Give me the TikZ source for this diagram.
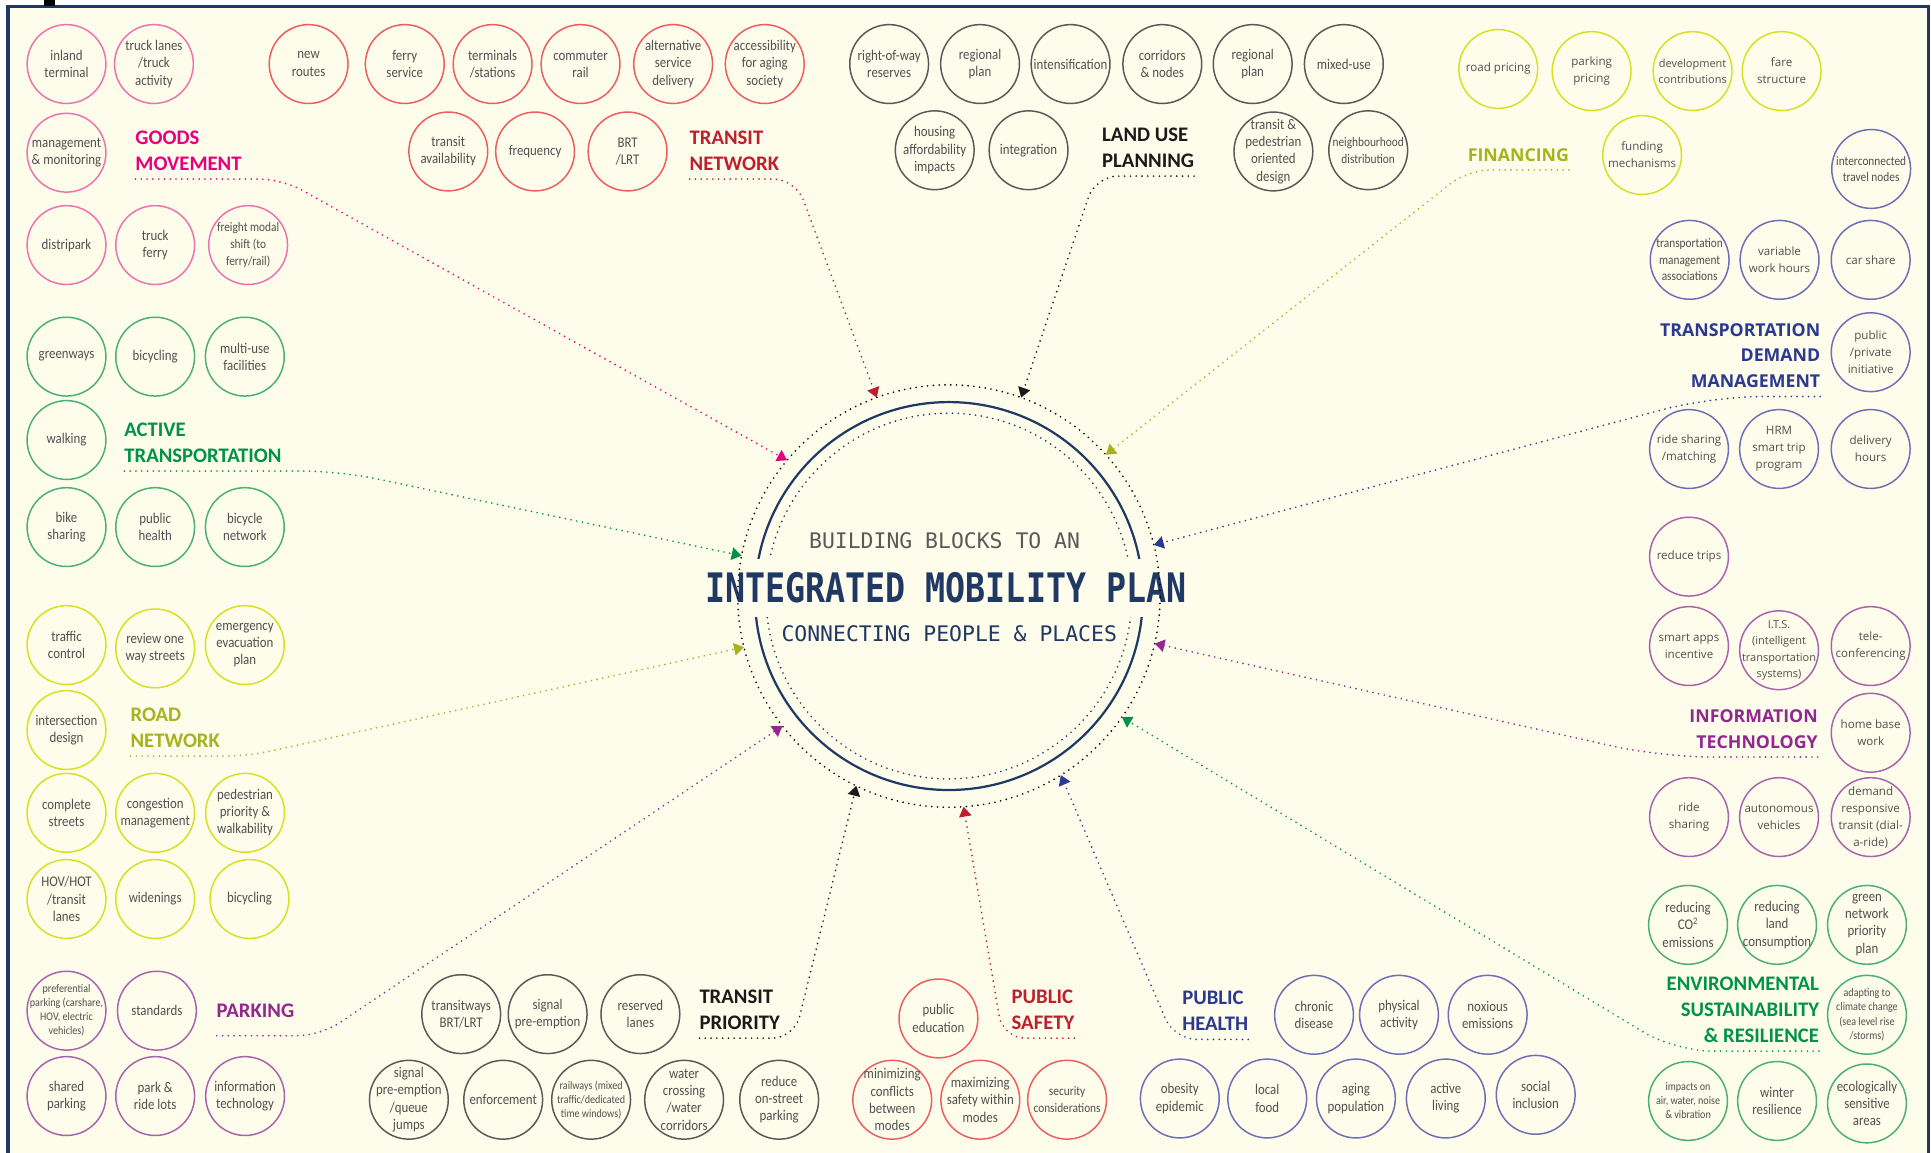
\documentclass[tikz,border=0pt]{standalone}
\usepackage{fontspec}
\setmainfont{Carlito}
\newfontfamily\bubblefont[FakeStretch=0.87]{Carlito}
\newfontfamily\osfont{Open Sans}
\newfontfamily\titlefont[FakeStretch=0.82]{DejaVu Sans Mono}
\newfontfamily\subfont{DejaVu Sans Mono}
\usetikzlibrary{arrows.meta}

\definecolor{bgcream}{HTML}{FEFCEA}
\definecolor{framenavy}{HTML}{1F3864}
\definecolor{txtgray}{HTML}{505050}
\definecolor{subgray}{HTML}{5A5A5A}
\definecolor{goodsc}{HTML}{E6007E}
\definecolor{goodsl}{HTML}{EE72AD}
\definecolor{transc}{HTML}{BE1E2D}
\definecolor{transl}{HTML}{EE5D5D}
\definecolor{landc}{HTML}{1A1A1A}
\definecolor{landl}{HTML}{595959}
\definecolor{finc}{HTML}{A8B21E}
\definecolor{finl}{HTML}{D9E021}
\definecolor{tdmc}{HTML}{2B3990}
\definecolor{tdml}{HTML}{6C6FB5}
\definecolor{itc}{HTML}{92278F}
\definecolor{itl}{HTML}{A763AC}
\definecolor{envc}{HTML}{00924A}
\definecolor{envl}{HTML}{4CAF73}

\tikzset{
    bubble/.style={circle, draw, line width=1.2pt, minimum size=64pt, inner sep=-12pt, outer sep=0pt,
        align=center, text=txtgray, font=\bubblefont\fontsize{12}{14}\selectfont},
    osb/.style={font=\osfont\fontsize{9.4}{13.8}\selectfont},
    osmid/.style={font=\osfont\fontsize{8.9}{13.2}\selectfont},
    midt/.style={font=\bubblefont\fontsize{10.6}{13.5}\selectfont},
    smallt/.style={font=\bubblefont\fontsize{9.4}{11.4}\selectfont},
    goods/.style={bubble, draw=goodsl},
    transit/.style={bubble, draw=transl},
    landuse/.style={bubble, draw=landl},
    finance/.style={bubble, osb, draw=finl},
    tdm/.style={bubble, osb, draw=tdml},
    infotech/.style={bubble, osb, draw=itl},
    enviro/.style={bubble, draw=envl},
    health/.style={bubble, draw=tdml},
    safety/.style={bubble, draw=transl},
    priority/.style={bubble, draw=landl},
    parking/.style={bubble, draw=itl},
    road/.style={bubble, draw=finl},
    active/.style={bubble, draw=envl},
    head/.style={inner sep=0pt, outer sep=0pt, font=\bfseries\fontsize{16.8}{21}\selectfont},
    oshead/.style={inner sep=0pt, outer sep=0pt, font=\osfont\bfseries\fontsize{14.4}{21}\selectfont},
    dotline/.style={line width=1.5pt, dash pattern=on 0pt off 4.7pt, line cap=round},
    feeder/.style={dotline, rounded corners=18pt, -{Triangle[length=8pt,width=10pt]}}
}

\begin{document}
\begin{tikzpicture}[x=1pt,y=-1pt]
\useasboundingbox (0,0) rectangle (1568,936);
\fill[bgcream] (6.5,5) rectangle (1568,936);
\draw[framenavy, line width=2.5pt] (6.5,940) -- (6.5,5) -- (1566,5) -- (1566,940);
\fill (36,0) rectangle (45,5);

\coordinate (hub) at (770.5,484);
\draw[framenavy, line width=1.8pt] (hub) circle[radius=157.5pt];
\draw[dotline, framenavy] (hub) circle[radius=148.5pt];
\node[fill=bgcream, inner xsep=3pt, inner ysep=11pt, text=framenavy,
    font=\titlefont\bfseries\fontsize{33}{36}\selectfont] (title) at (768,477.6) {INTEGRATED MOBILITY PLAN};
\node[text=subgray, font=\subfont\fontsize{17.4}{20}\selectfont] (blocks) at (767,439) {BUILDING BLOCKS TO AN};
\node[text=framenavy, font=\subfont\fontsize{17.4}{20}\selectfont] (people) at (770.8,514.3) {CONNECTING PEOPLE \& PLACES};
\node[circle, draw, dotline, minimum size=343pt, inner sep=0pt, outer sep=0pt] (ring) at (hub) {};

\foreach \n/\x/\y/\st/\lbl in {
    gm1/54/52//{inland\\terminal},
    gm2/125/52//{truck lanes\\/truck\\activity},
    gm3/54/124//{management\\\& monitoring},
    gm4/54/199//{distripark},
    gm5/126/199//{truck\\ferry},
    gm6/201.5/199/midt/{freight modal\\shift (to\\ferry/rail)}}
    \node[goods,\st] (\n) at (\x,\y) {\lbl};

\foreach \n/\x/\y/\st/\lbl in {
    tn1/250.6/52//{new\\routes},
    tn2/328.7/52//{ferry\\service},
    tn3/400/52//{terminals\\/stations},
    tn4/471.4/52//{commuter\\rail},
    tn5/546.6/52//{alternative\\service\\delivery},
    tn6/621/52//{accessibility\\for aging\\society},
    tn7/364/123//{transit\\availability},
    tn8/434.5/123//{frequency},
    tn9/509.6/123//{BRT\\/LRT}}
    \node[transit,\st] (\n) at (\x,\y) {\lbl};

\foreach \n/\x/\y/\st/\lbl in {
    lu1/722/52//{right-of-way\\reserves},
    lu2/795.8/52//{regional\\plan},
    lu3/869.3/52//{intensification},
    lu4/943.8/52//{corridors\\\& nodes},
    lu5/1017.2/52//{regional\\plan},
    lu6/1091.2/52//{mixed-use},
    lu7/759/122//{housing\\affordability\\impacts},
    lu8/835.2/122//{integration},
    lu9/1034/123//{transit \&\\pedestrian\\oriented\\design},
    lu10/1111/122/midt/{neighbourhood\\distribution}}
    \node[landuse,\st] (\n) at (\x,\y) {\lbl};

\foreach \n/\x/\y/\st/\lbl in {
    fi1/1216.6/56//{road pricing},
    fi2/1292.4/57.7//{parking\\pricing},
    fi3/1374.4/57.7/osmid/{development\\contributions},
    fi4/1446.7/57.7//{fare\\structure},
    fi5/1333.4/125.9//{funding\\mechanisms}}
    \node[finance,\st] (\n) at (\x,\y) {\lbl};

\foreach \n/\x/\y/\st/\lbl in {
    td1/1519.4/137.2/midt/{interconnected\\travel nodes},
    td2/1372/211/midt/{transportation\\management\\associations},
    td3/1445/211//{variable\\work hours},
    td4/1519/211//{car share},
    td5/1519/286//{public\\/private\\initiative},
    td6/1371.5/364.6//{ride sharing\\/matching},
    td7/1444.6/364.6//{HRM\\smart trip\\program},
    td8/1519/364.6//{delivery\\hours}}
    \node[tdm,\st] (\n) at (\x,\y) {\lbl};

\foreach \n/\x/\y/\st/\lbl in {
    it1/1371.5/452//{reduce trips},
    it2/1371.5/524.6//{smart apps\\incentive},
    it3/1444.6/528/osmid/{I.T.S.\\(intelligent\\transportation\\systems)},
    it4/1519/524.6//{tele-\\conferencing},
    it5/1519/595//{home base\\work},
    it6/1371.5/663.5//{ride\\sharing},
    it7/1444.6/663.5//{autonomous\\vehicles},
    it8/1519/663.5//{demand\\responsive\\transit (dial-\\a-ride)}}
    \node[infotech,\st] (\n) at (\x,\y) {\lbl};

\foreach \n/\x/\y/\st/\lbl in {
    en1/1370.7/751//{reducing\\CO\textsuperscript{2}\\emissions},
    en2/1443/751//{reducing\\land\\consumption},
    en3/1516/751//{green\\network\\priority\\plan},
    en4/1516/824/smallt/{adapting to\\climate change\\(sea level rise\\/storms)},
    en5/1370.7/894/smallt/{impacts on\\air, water, noise\\\& vibration},
    en6/1443/894//{winter\\resilience},
    en7/1516/896//{ecologically\\sensitive\\areas}}
    \node[enviro,\st] (\n) at (\x,\y) {\lbl};

\foreach \n/\x/\y/\st/\lbl in {
    ph1/1067/824//{chronic\\disease},
    ph2/1136/824//{physical\\activity},
    ph3/1208/824//{noxious\\emissions},
    ph4/958/892//{obesity\\epidemic},
    ph5/1029/892//{local\\food},
    ph6/1101/892//{aging\\population},
    ph7/1174/892//{active\\living},
    ph8/1247/889//{social\\inclusion}}
    \node[health,\st] (\n) at (\x,\y) {\lbl};

\foreach \n/\x/\y/\st/\lbl in {
    ps1/762/827//{public\\education},
    ps2/724.5/893//{minimizing\\conflicts\\between\\modes},
    ps3/796/893//{maximizing\\safety within\\modes},
    ps4/866.5/893/midt/{security\\considerations}}
    \node[safety,\st] (\n) at (\x,\y) {\lbl};

\foreach \n/\x/\y/\st/\lbl in {
    tp1/374.5/823.5//{transitways\\BRT/LRT},
    tp2/444.7/823.5//{signal\\pre-emption},
    tp3/520/823.5//{reserved\\lanes},
    tp4/332/893//{signal\\pre-emption\\/queue\\jumps},
    tp5/408.6/893//{enforcement},
    tp6/480/893/smallt/{railways (mixed\\traffic/dedicated\\time windows)},
    tp7/555.5/893//{water\\crossing\\/water\\corridors},
    tp8/632.7/893//{reduce\\on-street\\parking}}
    \node[priority,\st] (\n) at (\x,\y) {\lbl};

\foreach \n/\x/\y/\st/\lbl in {
    pk1/54/820.7/smallt/{preferential\\parking (carshare,\\HOV, electric\\vehicles)},
    pk2/127.4/820.7//{standards},
    pk3/54/890//{shared\\parking},
    pk4/126/890//{park \&\\ride lots},
    pk5/199/890//{information\\technology}}
    \node[parking,\st] (\n) at (\x,\y) {\lbl};

\foreach \n/\x/\y/\st/\lbl in {
    rn1/54/523.8//{traffic\\control},
    rn2/126/526.5//{review one\\way streets},
    rn3/198.8/523.8//{emergency\\evacuation\\plan},
    rn4/54/592.8//{intersection\\design},
    rn5/54/660//{complete\\streets},
    rn6/126/660//{congestion\\management},
    rn7/199/660//{pedestrian\\priority \&\\walkability},
    rn8/54/730//{HOV/HOT\\/transit\\lanes},
    rn9/126/730//{widenings},
    rn10/202.6/730//{bicycling}}
    \node[road,\st] (\n) at (\x,\y) {\lbl};

\foreach \n/\x/\y/\st/\lbl in {
    at1/54/289.6//{greenways},
    at2/126/289.6//{bicycling},
    at3/198.8/289.6//{multi-use\\facilities},
    at4/54/357.3//{walking},
    at5/54/428//{bike\\sharing},
    at6/126/428//{public\\health},
    at7/198.8/428//{bicycle\\network}}
    \node[active,\st] (\n) at (\x,\y) {\lbl};

\node[head, goodsc, anchor=south west, align=left] (gml) at (110,138.4) {GOODS\\MOVEMENT};
\node[head, transc, anchor=south west, align=left] (tnl) at (560,138.4) {TRANSIT\\NETWORK};
\node[head, landc, anchor=south west, align=left] (lul) at (895,136) {LAND USE\\PLANNING};
\node[oshead, finc, anchor=south east, align=right] (fil) at (1274,131) {FINANCING};
\node[oshead, tdmc, anchor=south east, align=right] (tdml) at (1478,315) {TRANSPORTATION\\DEMAND\\MANAGEMENT};
\node[oshead, itc, anchor=south east, align=right] (itl) at (1476,607.7) {INFORMATION\\TECHNOLOGY};
\node[head, envc, anchor=south east, align=right] (envl) at (1477,846.5) {ENVIRONMENTAL\\SUSTAINABILITY\\\& RESILIENCE};
\node[head, tdmc, anchor=south west, align=left] (phl) at (960,837) {PUBLIC\\HEALTH};
\node[head, transc, anchor=south west, align=left] (psl) at (821.5,836) {PUBLIC\\SAFETY};
\node[head, landc, anchor=south west, align=left] (tpl) at (568,836) {TRANSIT\\PRIORITY};
\node[head, itc, anchor=south west, align=left] (pkl) at (176,826) {PARKING};
\node[head, finc, anchor=south west, align=left] (rnl) at (106,607) {ROAD\\NETWORK};
\node[head, envc, anchor=south west, align=left] (atl) at (101,375.5) {ACTIVE\\TRANSPORTATION};

\draw[feeder, goodsc] ([yshift=-7pt]gml.south west) -- ++(119,0) -- (ring.140);
\draw[feeder, transc] ([yshift=-7pt]tnl.south west) -- ++(86,0) -- (ring.110.3);
\draw[feeder, landc] ([yshift=-7pt]lul.south east) -- ++(-80,0) -- (ring.70.4);
\draw[feeder, finc] ([yshift=-7pt]fil.south east) -- ++(-82,0) -- (ring.42.3);
\draw[feeder, tdmc, rounded corners=40pt] ([yshift=-7pt]tdml.south east) -- ++(-88,0) -- (ring.14.6);
\draw[feeder, itc, rounded corners=40pt] ([yshift=-7pt]itl.south east) -- ++(-127,0) -- (ring.-13.3);
\draw[feeder, envc, rounded corners=30pt] ([yshift=-7pt]envl.south east) -- ++(-117,0) -- (ring.-35.2);
\draw[feeder, tdmc] ([yshift=-7pt]phl.south east) -- ++(-60,0) -- (ring.-58.7);
\draw[feeder, transc] ([yshift=-7pt]psl.south east) -- ++(-58,0) -- (ring.-86.5);
\draw[feeder, landc] ([yshift=-7pt]tpl.south west) -- ++(77,0) -- (ring.244);
\draw[feeder, itc] ([yshift=-15pt]pkl.south west) -- ++(84,0) -- (ring.218.9);
\draw[feeder, finc] ([yshift=-7pt]rnl.south west) -- ++(95,0) -- (ring.194);
\draw[feeder, envc, rounded corners=30pt] ([yshift=-7pt]atl.south west) -- ++(175,0) -- (ring.169.5);
\end{tikzpicture}
\end{document}
